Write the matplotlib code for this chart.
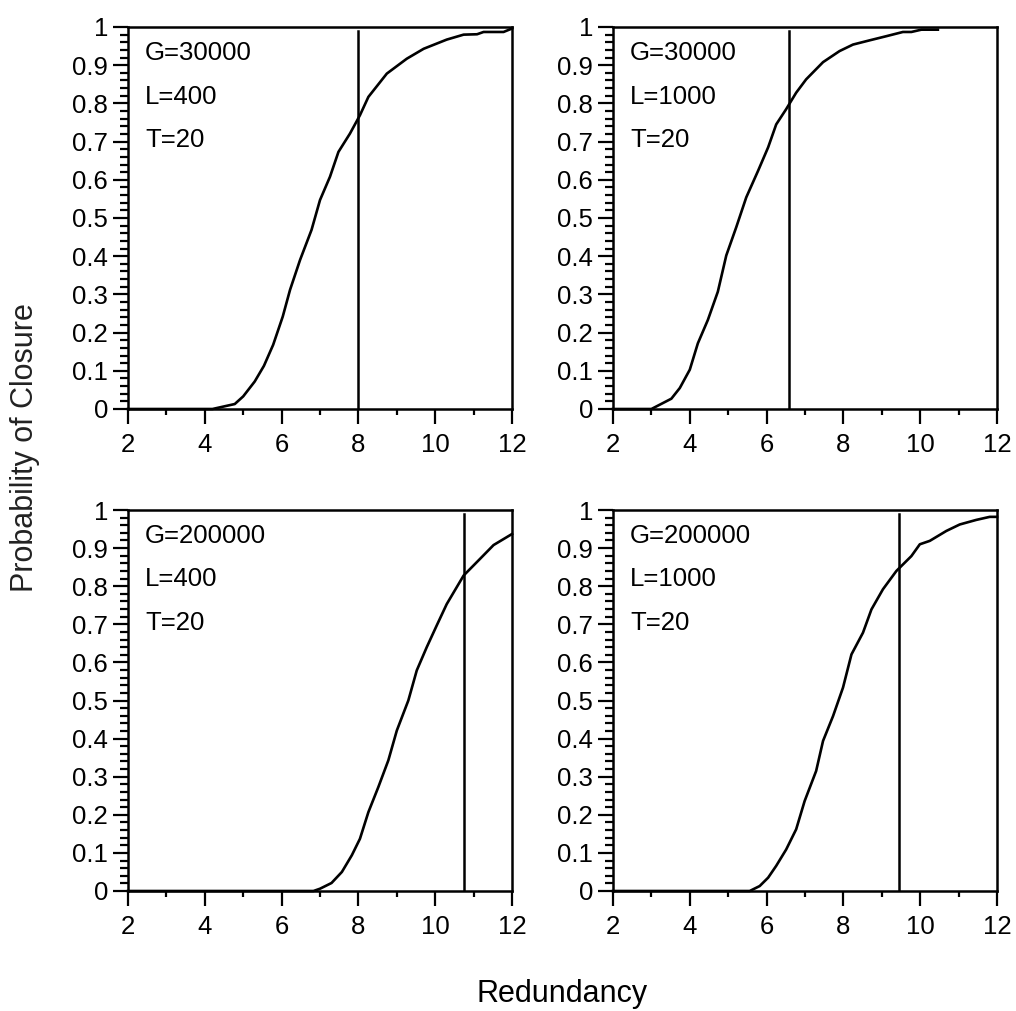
import numpy as np
import matplotlib.pyplot as plt
from matplotlib.ticker import MultipleLocator, FuncFormatter

plt.rcParams['font.family'] = ['Liberation Sans', 'DejaVu Sans']

# curve data: (redundancy, probability of closure)
x_g30k_l400 = [2, 4.2, 4.78, 5.0, 5.3, 5.54, 5.78, 6.03, 6.22, 6.48, 6.78, 7.0, 7.26, 7.48,
               7.78, 8.04, 8.26, 8.74, 9.26, 9.7, 10.3, 10.74, 11.09, 11.26, 11.78, 12.0]
y_g30k_l400 = [0, 0, 0.013, 0.033, 0.072, 0.113, 0.168, 0.242, 0.312, 0.39, 0.469, 0.547, 0.608, 0.673,
               0.721, 0.769, 0.817, 0.878, 0.917, 0.943, 0.967, 0.98, 0.981, 0.987, 0.987, 0.996]

x_g30k_l1000 = [2, 3.0, 3.52, 3.74, 4.0, 4.21, 4.47, 4.73, 4.95, 5.21, 5.47, 5.78, 6.04, 6.25,
                6.51, 6.77, 7.03, 7.47, 7.9, 8.25, 8.68, 9.12, 9.55, 9.77, 10.03, 10.46]
y_g30k_l1000 = [0, 0, 0.027, 0.055, 0.103, 0.172, 0.233, 0.307, 0.402, 0.476, 0.554, 0.624, 0.685, 0.745,
                0.785, 0.828, 0.863, 0.908, 0.937, 0.954, 0.965, 0.976, 0.987, 0.987, 0.993, 0.993]

x_g200k_l400 = [2, 6.83, 7.0, 7.3, 7.57, 7.83, 8.04, 8.26, 8.52, 8.78, 9.0, 9.3, 9.52, 9.78,
                10.04, 10.3, 10.74, 11.17, 11.52, 12.0]
y_g200k_l400 = [0, 0, 0.006, 0.021, 0.05, 0.094, 0.137, 0.207, 0.273, 0.343, 0.421, 0.5, 0.579, 0.64,
                0.697, 0.753, 0.828, 0.872, 0.908, 0.937]

x_g200k_l1000 = [2, 5.56, 5.82, 6.04, 6.25, 6.51, 6.77, 6.99, 7.29, 7.47, 7.73, 7.99, 8.21, 8.51,
                 8.73, 9.03, 9.38, 9.77, 9.99, 10.25, 10.68, 11.03, 11.46, 11.81, 12.0]
y_g200k_l1000 = [0, 0, 0.013, 0.035, 0.066, 0.109, 0.162, 0.236, 0.315, 0.394, 0.459, 0.534, 0.621, 0.678,
                 0.739, 0.792, 0.84, 0.879, 0.91, 0.919, 0.945, 0.962, 0.974, 0.982, 0.982]

# vertical marker positions
vlines = [8.0, 6.58, 10.75, 9.45]
params = [("G=30000", "L=400", "T=20"),
          ("G=30000", "L=1000", "T=20"),
          ("G=200000", "L=400", "T=20"),
          ("G=200000", "L=1000", "T=20")]
curves = [(x_g30k_l400, y_g30k_l400), (x_g30k_l1000, y_g30k_l1000),
          (x_g200k_l400, y_g200k_l400), (x_g200k_l1000, y_g200k_l1000)]

W, H = 1016, 1011
fig = plt.figure(figsize=(W / 100, H / 100), dpi=100)

# pixel boxes: left, right, top, bottom
boxes = [(128, 512, 27, 409), (613, 997, 27, 409),
         (128, 512, 510, 891), (613, 997, 510, 891)]

def fmt(v, pos):
    if abs(v) < 1e-9:
        return "0"
    if abs(v - 1) < 1e-9:
        return "1"
    return "%.1f" % v

for i, (l, r, t, b) in enumerate(boxes):
    ax = fig.add_axes([l / W, 1 - b / H, (r - l) / W, (b - t) / H])
    xs, ys = curves[i]
    ax.plot(xs, ys, color='black', lw=1.9, clip_on=False, solid_joinstyle='round')
    ax.axvline(vlines[i], color='black', lw=1.8, ymax=0.99)
    ax.set_xlim(2, 12)
    ax.set_ylim(0, 1)
    ax.xaxis.set_major_locator(MultipleLocator(2))
    ax.xaxis.set_minor_locator(MultipleLocator(1))
    ax.yaxis.set_major_locator(MultipleLocator(0.1))
    ax.yaxis.set_minor_locator(MultipleLocator(0.02))
    ax.yaxis.set_major_formatter(FuncFormatter(fmt))
    ax.tick_params(axis='both', which='both', direction='out', top=False, right=False,
                   labelsize=18.5, width=1.6)
    ax.tick_params(axis='x', which='major', length=10.8, pad=6.5)
    ax.tick_params(axis='x', which='minor', length=4.3)
    ax.tick_params(axis='y', which='major', length=10.8, pad=3.5)
    ax.tick_params(axis='y', which='minor', length=6)
    for s in ax.spines.values():
        s.set_linewidth(1.8)
    for k, txt in enumerate(params[i]):
        ax.text(0.044, 0.932 - k * 0.114, txt, transform=ax.transAxes,
                fontsize=18.5, ha='left', va='center')

fig.text(25 / W, 1 - 448 / H, "Probability of Closure", rotation=90,
         fontsize=22, ha='center', va='center', color='#222222')
fig.text(562 / W, 1 - 994 / H, "Redundancy", fontsize=22, ha='center', va='center')

fig.savefig("out.png", dpi=100)
